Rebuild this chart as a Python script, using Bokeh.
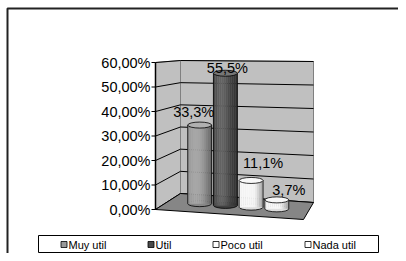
import math
from bokeh.plotting import figure
from bokeh.models import Range1d
from bokeh.core.properties import value
from bokeh.embed import file_html
from bokeh.resources import INLINE

# ---------------- data ----------------
categories = ["Muy util", "Util", "Poco util", "Nada util"]
values = [33.3, 55.5, 11.1, 3.7]
value_labels = ["33,3%", "55,5%", "11,1%", "3,7%"]
tick_values = [0, 10, 20, 30, 40, 50, 60]
tick_labels = ["0,00%", "10,00%", "20,00%", "30,00%", "40,00%", "50,00%", "60,00%"]

# ---------------- styles / layout ----------------
bar_rgb = [(150, 150, 150), (72, 72, 72), (246, 246, 246), (246, 246, 246)]
legend_fill = ["#999999", "#4a4a4a", "#ffffff", "#ffffff"]
legend_x = [61, 148, 213, 305]
label_dx = [-6, 2, 12, 12]
label_dy = [-13, -5, -17, -10]
FONT = "Liberation Sans"

# 3D box corners (picture space): back-left, back-right, front-left, front-right
BL, BR, FL, FR = (180, 193), (313, 202), (155, 209), (303, 219)
SBL, SBR, SFL, SFR = 133 / 60, 141 / 60, 147 / 60, 2.55
VMAX = tick_values[-1]


def proj(u, d, v):
    w = [(1 - u) * (1 - d), u * (1 - d), (1 - u) * d, u * d]
    pts = [BL, BR, FL, FR]
    ss = [SBL, SBR, SFL, SFR]
    x = sum(wi * p[0] for wi, p in zip(w, pts))
    y0 = sum(wi * p[1] for wi, p in zip(w, pts))
    s = sum(wi * si for wi, si in zip(w, ss))
    return x, y0 - v * s


def shade(rgb, k):
    if k >= 0:
        c = [int(round(ch + (255 - ch) * k)) for ch in rgb]
    else:
        c = [int(round(ch * (1 + k))) for ch in rgb]
    c = [max(0, min(255, ch)) for ch in c]
    return "#%02x%02x%02x" % tuple(c)


p = figure(width=398, height=253, x_range=Range1d(0, 398), y_range=Range1d(253, 0),
           output_backend="svg", toolbar_location=None, min_border=0,
           x_axis_type=None, y_axis_type=None)
p.grid.visible = False
p.outline_line_color = None
p.background_fill_color = "white"
p.border_fill_color = "white"

# outer frame (left and top edges visible)
p.line([7, 7, 398], [253, 8, 8], line_color="#222222", line_width=2)

# left wall
lw = [proj(0, 1, 0), proj(0, 1, VMAX), proj(0, 0, VMAX), proj(0, 0, 0)]
p.patch([q[0] for q in lw], [q[1] for q in lw], fill_color="#c0c0c0", line_color="#808080", line_width=1)
# back wall
bw = [proj(0, 0, 0), proj(0, 0, VMAX), proj(1, 0, VMAX), proj(1, 0, 0)]
p.patch([q[0] for q in bw], [q[1] for q in bw], fill_color="#c0c0c0", line_color="#808080", line_width=1)

# gridlines
gxs, gys = [], []
for v in tick_values:
    a, b, c = proj(0, 1, v), proj(0, 0, v), proj(1, 0, v)
    gxs.append([a[0], b[0], c[0]])
    gys.append([a[1], b[1], c[1]])
p.multi_line(gxs, gys, line_color="black", line_width=1)

# floor
fl = [proj(0, 0, 0), proj(1, 0, 0), proj(1, 1, 0), proj(0, 1, 0)]
p.patch([q[0] for q in fl], [q[1] for q in fl], fill_color="#868686", line_color="black", line_width=1)

# axis line, ticks, labels
a0, a1 = proj(0, 1, 0), proj(0, 1, VMAX)
p.line([a0[0], a1[0]], [a0[1], a1[1]], line_color="black", line_width=1.5)
tick_y = [proj(0, 1, v)[1] for v in tick_values]
tick_x = [proj(0, 1, v)[0] for v in tick_values]
p.segment(x0=[x - 4 for x in tick_x], y0=tick_y, x1=tick_x, y1=tick_y, line_color="black", line_width=1)
p.text(x=[x - 5 for x in tick_x], y=tick_y, text=tick_labels, text_align="right",
       text_baseline="middle", text_font=value(FONT), text_font_size="14.5px", text_color="black")

# cylinders
n = len(values)
DEPTH = 0.5
HALF = 0.085
EH = 6
NSTRIP = 12
cx_l, top_l, bot_l, wid_l = [], [], [], []
sl, sr, st, sb, sc = [], [], [], [], []
for i, v in enumerate(values):
    u = 0.5 + (i - (n - 1) / 2) * 0.183
    xl = proj(u - HALF, DEPTH, 0)[0]
    xr = proj(u + HALF, DEPTH, 0)[0]
    cx, ybot = proj(u, DEPTH, 0)
    ytop = proj(u, DEPTH, v)[1]
    cx_l.append(cx); top_l.append(ytop); bot_l.append(ybot); wid_l.append(xr - xl)
    for k in range(NSTRIP):
        t = (k + 0.5) / NSTRIP
        kk = 0.28 * math.cos(math.pi * (t - 0.35) * 1.15) - 0.12
        sl.append(xl + (xr - xl) * k / NSTRIP)
        sr.append(xl + (xr - xl) * (k + 1) / NSTRIP)
        st.append(ytop)
        sb.append(ybot)
        sc.append(shade(bar_rgb[i], kk))

p.ellipse(x=cx_l, y=bot_l, width=wid_l, height=EH,
          fill_color=[shade(c, -0.1) for c in bar_rgb], line_color="black", line_width=0.8)
p.quad(left=sl, right=sr, top=st, bottom=sb, fill_color=sc, line_color=sc, line_width=0.4)
ex0 = [c - w / 2 for c, w in zip(cx_l, wid_l)]
ex1 = [c + w / 2 for c, w in zip(cx_l, wid_l)]
p.segment(x0=ex0, y0=top_l, x1=ex0, y1=bot_l, line_color="black", line_width=0.8)
p.segment(x0=ex1, y0=top_l, x1=ex1, y1=bot_l, line_color="black", line_width=0.8)
p.ellipse(x=cx_l, y=top_l, width=wid_l, height=EH,
          fill_color=[shade(c, 0.25) for c in bar_rgb], line_color="black", line_width=0.8)

# value labels
p.text(x=[c + d for c, d in zip(cx_l, label_dx)], y=[t + d for t, d in zip(top_l, label_dy)],
       text=value_labels, text_align="center", text_baseline="middle",
       text_font=value(FONT), text_font_size="14.5px", text_color="black")

# legend
p.quad(left=[38], right=[378], top=[235], bottom=[252], fill_color="white", line_color="black", line_width=1)
leg_y = [244] * n
p.scatter(x=[x + 2.5 for x in legend_x], y=leg_y, marker="square", size=6,
          fill_color=legend_fill, line_color="black", line_width=0.8)
p.text(x=[x + 7 for x in legend_x], y=leg_y, text=categories, text_align="left",
       text_baseline="middle", text_font=value(FONT), text_font_size="11px", text_color="black")

open("out.html", "w").write(file_html(p, INLINE))
